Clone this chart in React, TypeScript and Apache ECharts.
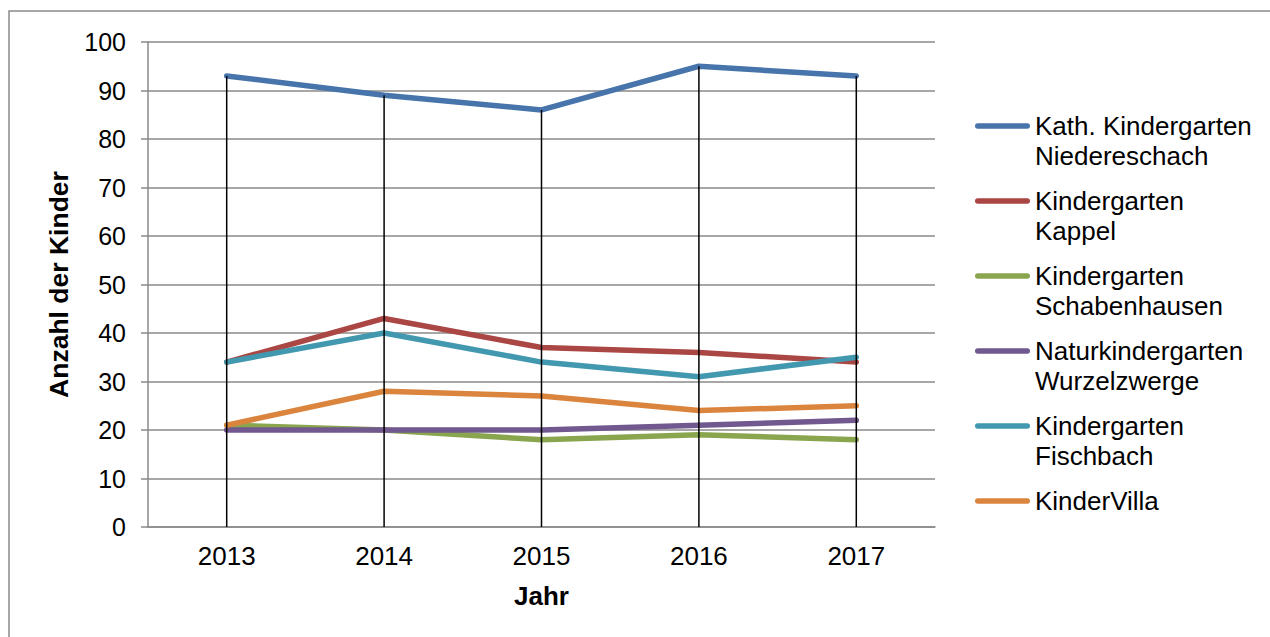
import React, { useEffect, useRef } from "react";
import * as echarts from "echarts";

const categories = ["2013", "2014", "2015", "2016", "2017"];
const seriesNames = [
  "Kath. Kindergarten Niedereschach",
  "Kindergarten Kappel",
  "Kindergarten Schabenhausen",
  "Naturkindergarten Wurzelzwerge",
  "Kindergarten Fischbach",
  "KinderVilla",
];
const legendLabels = [
  "Kath. Kindergarten\nNiedereschach",
  "Kindergarten\nKappel",
  "Kindergarten\nSchabenhausen",
  "Naturkindergarten\nWurzelzwerge",
  "Kindergarten\nFischbach",
  "KinderVilla\n ",
];
const kathNiedereschach = [93, 89, 86, 95, 93];
const kappel = [34, 43, 37, 36, 34];
const schabenhausen = [21, 20, 18, 19, 18];
const wurzelzwerge = [20, 20, 20, 21, 22];
const fischbach = [34, 40, 34, 31, 35];
const kinderVilla = [21, 28, 27, 24, 25];
const seriesValues = [kathNiedereschach, kappel, schabenhausen, wurzelzwerge, fischbach, kinderVilla];
const colors = ["#4674AB", "#AA4643", "#89A54E", "#71588F", "#4198AF", "#DB843D"];
const yTicks = { min: 0, max: 100, interval: 10 };

const FONT = "'Liberation Sans', Arial, sans-serif";

export default function App() {
  const ref = useRef<HTMLDivElement>(null);
  useEffect(() => {
    document.body.style.margin = "0";
    if (!ref.current) return;
    const chart = echarts.init(ref.current, undefined, { renderer: "svg" });
    const maxPerCat = categories.map((_, i) => Math.max(...seriesValues.map((s) => s[i])));
    const legendMap: Record<string, string> = {};
    seriesNames.forEach((n, i) => (legendMap[n] = legendLabels[i]));
    const iconPath =
      "path://M0,0 L0.01,0 L0.01,0.01 Z M2.75,12.25 L52.25,12.25 A2.75,2.75 0 0 1 52.25,17.75 L2.75,17.75 A2.75,2.75 0 0 1 2.75,12.25 Z M54.99,59.99 L55,60 L54.99,60 Z";
    chart.setOption({
      animation: false,
      textStyle: { fontFamily: FONT },
      grid: { left: 148, right: 335, top: 42, bottom: 110 },
      graphic: [
        {
          type: "rect",
          shape: { x: 9, y: 11, width: 1300, height: 700 },
          style: { fill: "none", stroke: "#8a8a8a", lineWidth: 1.5 },
          silent: true,
        },
      ],
      legend: {
        orient: "vertical",
        left: 975,
        top: 111,
        padding: 0,
        itemWidth: 55,
        itemHeight: 60,
        itemGap: 15,
        icon: iconPath,
        itemStyle: { borderWidth: 0 },
        data: seriesNames,
        formatter: (name: string) => legendMap[name] || name,
        textStyle: { fontFamily: FONT, fontSize: 26, lineHeight: 30, color: "#000" },
      },
      xAxis: {
        type: "category",
        data: categories,
        boundaryGap: true,
        name: "Jahr",
        nameLocation: "middle",
        nameGap: 56,
        nameTextStyle: { fontFamily: FONT, fontSize: 26, fontWeight: "bold", color: "#000" },
        axisLine: { lineStyle: { color: "#8a8a8a", width: 1.5 } },
        axisTick: { show: false },
        axisLabel: { fontFamily: FONT, fontSize: 26, color: "#000", margin: 16 },
      },
      yAxis: {
        type: "value",
        min: yTicks.min,
        max: yTicks.max,
        interval: yTicks.interval,
        name: "Anzahl der Kinder",
        nameLocation: "middle",
        nameGap: 76,
        nameRotate: 90,
        nameTextStyle: { fontFamily: FONT, fontSize: 26.5, fontWeight: "bold", color: "#000" },
        axisLine: { show: true, lineStyle: { color: "#8a8a8a", width: 1.5 } },
        axisTick: { show: true, length: 7, lineStyle: { color: "#8a8a8a", width: 1.5 } },
        axisLabel: { fontFamily: FONT, fontSize: 25, color: "#000", margin: 22 },
        splitLine: { lineStyle: { color: "#8a8a8a", width: 1.5 } },
      },
      series: [
        ...seriesNames.map((name, i) => ({
          name,
          type: "line",
          data: seriesValues[i],
          showSymbol: false,
          symbol: "none",
          color: colors[i],
          lineStyle: { width: 5.5, color: colors[i], cap: "round", join: "round" },
          z: 2,
        })),
        {
          type: "custom",
          name: "dropLines",
          z: 3,
          data: maxPerCat.map((v, i) => [i, v]),
          renderItem: (params: any, api: any) => {
            const top = api.coord([api.value(0), api.value(1)]);
            const bottom = api.coord([api.value(0), 0]);
            return {
              type: "line",
              shape: { x1: top[0], y1: top[1], x2: bottom[0], y2: bottom[1] },
              style: { stroke: "#000", lineWidth: 1.5 },
            };
          },
        },
      ],
    });
    return () => chart.dispose();
  }, []);
  return <div ref={ref} style={{ width: 1270, height: 637 }} />;
}
